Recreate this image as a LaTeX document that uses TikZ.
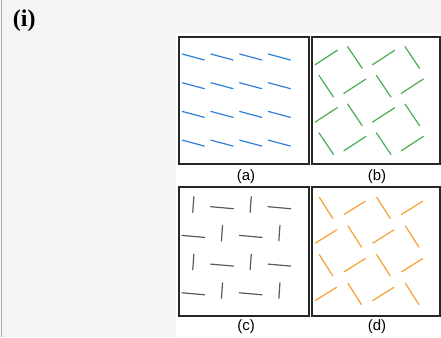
\documentclass[tikz,border=0pt]{standalone}
\usepackage{fontspec}
\setmainfont{Liberation Serif}
\newfontfamily\arialf{Liberation Sans}
\definecolor{bgGray}{HTML}{F4F4F4}
\definecolor{edgeGray}{HTML}{B0B0B0}
\definecolor{segBlue}{HTML}{2F7FD8}
\definecolor{segGreen}{HTML}{4AAD52}
\definecolor{segGray}{HTML}{5A5A5A}
\definecolor{segOrange}{HTML}{F9A030}
\begin{document}
\begin{tikzpicture}[x=1pt,y=-1pt,
  seg/.style={line width=1.2pt, line cap=round},
  panel/.style={draw=black!85, line width=1.3pt},
  lab/.style={font=\arialf\fontsize{15}{17}\selectfont, inner sep=0pt, anchor=base}]
\useasboundingbox (0,0) rectangle (441,337);
\fill[bgGray] (0,0) rectangle (441,337);
\fill[white] (176,33) rectangle (441,337);
\draw[edgeGray, line width=1pt] (1,0) -- (1,337);
\node[font=\bfseries\fontsize{24}{26}\selectfont, inner sep=0pt, anchor=base] (title) at (24.2,26.4) {(i)};
% panels
\draw[panel] (179,37) rectangle (309,164);
\draw[panel] (312,37) rectangle (440,164);
\draw[panel] (179,187) rectangle (309,316);
\draw[panel] (312,187) rectangle (440,316);
% labels
\node[lab] (la) at (246,180.5) {(a)};
\node[lab] (lb) at (377,180.5) {(b)};
\node[lab] (lc) at (246,330) {(c)};
\node[lab] (ld) at (377,330) {(d)};
% segments
\foreach \i in {0,...,3} {
  \foreach \j in {0,...,3} {
    \pgfmathsetmacro\ax{193.3+28.7*\i}
    \pgfmathsetmacro\ay{57+28.7*\j}
    \draw[seg, segBlue] (\ax,\ay) ++(15:-11.4) -- ++(15:22.8);
    \pgfmathsetmacro\bx{326.2+28.7*\i}
    \pgfmathsetmacro\by{57.5+28.7*\j}
    \pgfmathsetmacro\cx{193.3+28.7*\i}
    \pgfmathsetmacro\cy{207.7+28.7*\j}
    \pgfmathsetmacro\cyv{204.5+28.7*\j}
    \pgfmathsetmacro\dx{326+28.7*\i}
    \pgfmathsetmacro\dy{207.8+28.7*\j}
    \pgfmathtruncatemacro\parity{mod(\i+\j,2)}
    \ifnum\parity=0
      \draw[seg, segGreen] (\bx,\by) ++(-33:-13.2) -- ++(-33:26.4);
      \draw[seg, segGray] (\cx,\cyv) ++(-86:-7.8) -- ++(-86:15.6);
      \draw[seg, segOrange] (\dx,\dy) ++(57.6:-12.5) -- ++(57.6:25);
    \else
      \draw[seg, segGreen] (\bx,\by) ++(56:-13) -- ++(56:26);
      \draw[seg, segGray] (\cx,\cy) ++(5:-11.4) -- ++(5:22.8);
      \draw[seg, segOrange] (\dx,\dy) ++(-32:-12.5) -- ++(-32:25);
    \fi
  }
}
\end{tikzpicture}
\end{document}
